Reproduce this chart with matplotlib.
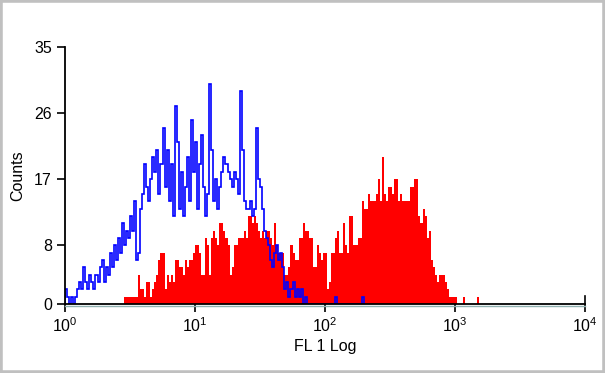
import numpy as np
import matplotlib.pyplot as plt
import matplotlib.transforms as mtransforms
from matplotlib.patches import Rectangle
from matplotlib.ticker import NullLocator

plt.rcParams['font.family'] = ['Liberation Sans', 'DejaVu Sans']
plt.rcParams['mathtext.default'] = 'regular'

# 256 channels over 4 decades
channels_per_decade = 64

# unstained / control histogram (blue outline), from channel 0
blue_counts = [2, 1, 0, 1, 0, 1, 2, 3, 2, 5,
               3, 2, 4, 3, 2, 4, 3, 5, 6, 3,
               5, 4, 7, 5, 8, 6, 9, 7, 11, 8,
               10, 9, 12, 10, 14, 6, 7, 13, 15, 19,
               16, 14, 17, 20, 18, 21, 15, 19, 24, 16,
               21, 14, 19, 12, 27, 22, 13, 18, 12, 16,
               20, 14, 25, 18, 22, 13, 19, 23, 16, 12,
               15, 30, 21, 14, 17, 13, 16, 18, 20, 19,
               18, 17, 16, 18, 17, 15, 29, 21, 14, 13,
               13, 14, 12, 13, 24, 17, 16, 13, 10, 9,
               8, 6, 5, 7, 8, 6, 7, 5, 2, 3,
               1, 2, 3, 1, 2, 1, 2, 0, 1, 0,
               0, 0, 0, 0, 0, 0, 0, 0, 0, 0,
               0, 0, 0, 1, 0, 0, 0, 0, 0, 0,
               0, 0, 0, 0, 0, 0, 1]

# stained histogram (red filled), starts at channel 29
red_first_channel = 29
red_counts = [1, 1, 1, 1, 1, 1, 1, 4, 2, 2,
              1, 3, 3, 1, 2, 3, 4, 6, 7, 7,
              2, 4, 3, 4, 3, 6, 6, 5, 5, 4,
              6, 5, 6, 6, 7, 8, 8, 7, 4, 4,
              9, 8, 4, 9, 10, 9, 8, 11, 11, 10,
              9, 8, 4, 5, 8, 8, 9, 9, 9, 10,
              9, 12, 12, 11, 12, 11, 10, 9, 10, 9,
              10, 10, 9, 8, 11, 8, 7, 7, 7, 4,
              4, 5, 8, 7, 6, 6, 9, 9, 11, 10,
              10, 9, 9, 5, 5, 8, 7, 6, 7, 7,
              2, 3, 7, 7, 9, 10, 7, 7, 11, 8,
              7, 12, 12, 8, 8, 9, 9, 14, 13, 13,
              15, 14, 14, 14, 15, 17, 14, 20, 15, 14,
              16, 16, 15, 17, 17, 14, 15, 14, 14, 14,
              14, 16, 16, 17, 17, 12, 11, 13, 12, 9,
              10, 6, 5, 4, 3, 4, 4, 4, 3, 2,
              1, 1, 1, 1, 0, 0, 0, 1, 0, 0,
              0, 0, 0, 0, 1, 0]

y_ticks = [0, 8, 17, 26, 35]
x_decades = [0, 1, 2, 3, 4]

fig = plt.figure(figsize=(6.05, 3.73), dpi=100)
fig.patches.append(Rectangle((0, 0), 1, 1, transform=fig.transFigure, fill=False,
                             edgecolor='#c0c0c0', lw=4))
ax = fig.add_axes([65 / 605, 69 / 373, 520 / 605, 257 / 373])

edges_blue = 10.0 ** (np.arange(len(blue_counts) + 1) / channels_per_decade)
edges_red = 10.0 ** ((red_first_channel + np.arange(len(red_counts) + 1)) / channels_per_decade)
ax.stairs(red_counts, edges_red, fill=True, color='#ff0000', lw=0, zorder=1)
ax.stairs(blue_counts, edges_blue, color='#0000ff', lw=1.2, zorder=2)

ax.set_xscale('log')
ax.set_xlim(1, 1e4)
ax.set_ylim(0, 35)
ax.set_xticks([10.0 ** d for d in x_decades])
ax.set_xticklabels(['$10^{%d}$' % d for d in x_decades])
ax.xaxis.set_minor_locator(NullLocator())
ax.set_yticks(y_ticks)

for side in ['top', 'right']:
    ax.spines[side].set_visible(False)
for side in ['left', 'bottom']:
    ax.spines[side].set_linewidth(1.3)
    ax.spines[side].set_zorder(3)

# thin grey-teal shadow line under the x axis
shadow = mtransforms.offset_copy(ax.get_xaxis_transform(), fig=fig, x=0, y=-1.6, units='points')
ax.plot([1, 1e4], [0, 0], color='#8fb0b0', lw=1.0, transform=shadow, clip_on=False, zorder=2.5)
# end marker at the right end of the x axis
ax.plot([1e4, 1e4], [0, 1.1], color='black', lw=1.2, clip_on=False, zorder=3)

ax.tick_params(axis='both', direction='out', length=6, width=1.2, labelsize=11.5, colors='black')
ax.tick_params(axis='x', pad=3)

ax.set_xlabel('FL 1 Log', fontsize=11.5, labelpad=3)
ax.set_ylabel('Counts', fontsize=11.5, labelpad=6)

plt.savefig('out.png', dpi=100)
